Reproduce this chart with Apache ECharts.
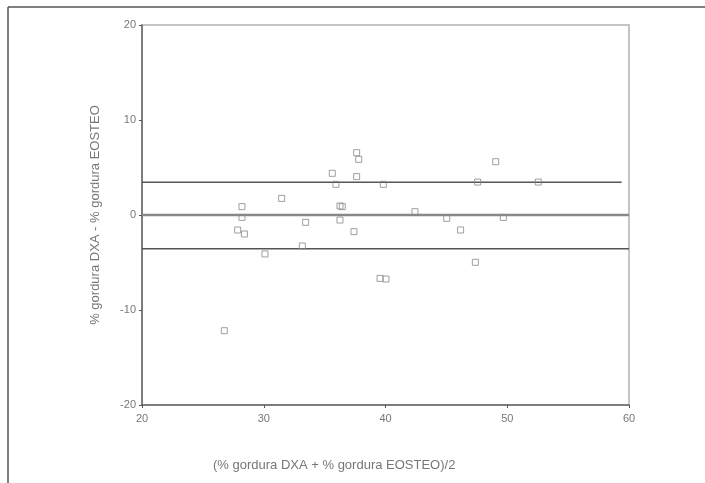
<!DOCTYPE html>
<html><head><meta charset="utf-8">
<script src="https://cdn.jsdelivr.net/npm/echarts@6/dist/echarts.min.js"></script>
<style>html,body{margin:0;padding:0;background:#fff}#c{width:705px;height:483px}</style>
</head><body><div id="c"></div>
<script>
var xTicks = [20, 30, 40, 50, 60];
var yTicks = [-20, -10, 0, 10, 20];
var meanX = [27.86,28.21,28.21,28.41,26.76,30.1,31.47,33.17,33.44,35.63,35.93,36.26,36.45,36.26,37.41,37.63,37.8,37.63,39.82,39.55,40.04,42.42,45.03,46.17,47.38,47.57,49.05,49.68,52.55];
var diffY = [-1.58,0.88,-0.25,-2.0,-12.18,-4.1,1.75,-3.26,-0.77,4.39,3.23,0.95,0.88,-0.53,-1.75,6.56,5.86,4.04,3.23,-6.67,-6.74,0.35,-0.35,-1.58,-4.98,3.47,5.61,-0.25,3.47];
var upperLimit = 3.44;
var meanDiff = 0;
var lowerLimit = -3.54;
var upperEnd = 59.4;

var pts = meanX.map(function(x, i){ return [x, diffY[i]]; });
var chart = echarts.init(document.getElementById('c'));
var tickLabel = {color:'#777', fontSize:11, fontFamily:'Liberation Sans, Arial, sans-serif'};
chart.setOption({
  animation:false,
  grid:{left:142, right:76, top:25, bottom:78, show:true, borderColor:'#c4c4c4', borderWidth:2},
  xAxis:{type:'value', min:20, max:60, interval:10,
    axisLine:{onZero:false, lineStyle:{color:'#666', width:1.5}},
    axisTick:{show:true, length:3, lineStyle:{color:'#555'}},
    axisLabel:Object.assign({margin:8}, tickLabel),
    splitLine:{show:false}},
  yAxis:{type:'value', min:-20, max:20, interval:10,
    axisLine:{show:true, onZero:false, lineStyle:{color:'#666', width:1.5}},
    axisTick:{show:true, length:3, lineStyle:{color:'#555'}},
    axisLabel:Object.assign({margin:6}, tickLabel),
    splitLine:{show:false},
    name:'% gordura DXA - % gordura EOSTEO', nameLocation:'middle', nameGap:40,
    nameTextStyle:{color:'#777', fontSize:13, fontFamily:'Liberation Sans, Arial, sans-serif'}},
  graphic:[
    {type:'line', shape:{x1:8, y1:7, x2:705, y2:7}, style:{stroke:'#555', lineWidth:1.5}},
    {type:'line', shape:{x1:8, y1:7, x2:8, y2:483}, style:{stroke:'#555', lineWidth:1.5}},
    {type:'text', left:213, top:459, style:{text:'(% gordura DXA + % gordura EOSTEO)/2', fill:'#777', fontSize:13, fontFamily:'Liberation Sans, Arial, sans-serif'}}
  ],
  series:[
    {type:'line', data:[[20,upperLimit],[upperEnd,upperLimit]], symbol:'none', lineStyle:{color:'#555', width:1.5}, z:1},
    {type:'line', data:[[20,meanDiff],[60,meanDiff]], symbol:'none', lineStyle:{color:'#888', width:2.5}, z:1},
    {type:'line', data:[[20,lowerLimit],[60,lowerLimit]], symbol:'none', lineStyle:{color:'#555', width:1.5}, z:1},
    {type:'scatter', data:pts, symbol:'rect', symbolSize:6,
      itemStyle:{color:'rgba(255,255,255,0)', borderColor:'#888', borderWidth:1}, z:3}
  ]
});
</script></body></html>
